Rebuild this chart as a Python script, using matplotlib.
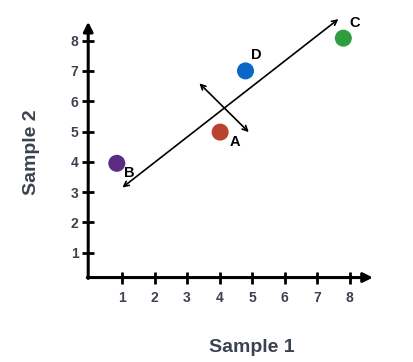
import matplotlib
matplotlib.use('Agg')
import matplotlib.pyplot as plt

# data
names = ['A', 'B', 'C', 'D']
sample1 = [4.02, 0.84, 7.81, 4.80]
sample2 = [4.98, 3.95, 8.08, 7.00]
colors = ['#b8432f', '#5c2b86', '#2f9c3f', '#0a66c8']
label_x = [4.48, 1.22, 8.17, 5.12]
label_y = [4.66, 3.63, 8.57, 7.52]

# first and second axis arrows (ends)
pc1_start = (1.01, 3.15)
pc1_end = (7.66, 8.71)
pc2_start = (3.38, 6.59)
pc2_end = (4.90, 4.98)

xticks = [1, 2, 3, 4, 5, 6, 7, 8]
yticks = [1, 2, 3, 4, 5, 6, 7, 8]

plt.rcParams['font.family'] = ['Liberation Sans', 'DejaVu Sans']
txt = '#3c4250'

fig = plt.figure(figsize=(4.14, 3.62), dpi=100)
ax = fig.add_axes([83 / 414, 79 / 362, 299 / 414, 272.7 / 362])
ax.set_xlim(-0.2, 9.0)
ax.set_ylim(0, 9.0)

x0, y0 = -0.04, 0.18
for s in ['top', 'right']:
    ax.spines[s].set_visible(False)
ax.spines['left'].set_position(('data', x0))
ax.spines['bottom'].set_position(('data', y0))
ax.spines['left'].set_visible(False)
ax.spines['bottom'].set_visible(False)

arrow_kw = dict(arrowstyle='-|>', lw=2.2, color='black', mutation_scale=14,
                shrinkA=0, shrinkB=0)
ax.annotate('', xy=(8.72, y0), xytext=(x0 - 0.03, y0), arrowprops=arrow_kw)
ax.annotate('', xy=(x0, 8.62), xytext=(x0, y0 - 0.03), arrowprops=arrow_kw)

ax.set_xticks(xticks)
ax.set_yticks(yticks)
ax.tick_params(axis='x', direction='inout', length=8, width=2, pad=6,
               labelsize=10, labelcolor=txt)
ax.tick_params(axis='y', direction='inout', length=8, width=2, pad=3,
               labelsize=10, labelcolor=txt)
for lab in ax.get_xticklabels() + ax.get_yticklabels():
    lab.set_fontweight('bold')

# principal directions
ax.annotate('', xy=pc1_end, xytext=pc1_start,
            arrowprops=dict(arrowstyle='<->', lw=1.2, color='black',
                            mutation_scale=9, shrinkA=0, shrinkB=0))
ax.annotate('', xy=pc2_end, xytext=pc2_start,
            arrowprops=dict(arrowstyle='<->', lw=1.2, color='black',
                            mutation_scale=9, shrinkA=0, shrinkB=0))

ax.scatter(sample1, sample2, s=150, c=colors, edgecolors='none', zorder=3)
for n, lx, ly in zip(names, label_x, label_y):
    ax.text(lx, ly, n, fontsize=10.5, fontweight='bold', ha='center',
            va='center', color='black', zorder=4)

fig.text(252 / 414, 1 - 348 / 362, 'Sample 1', fontsize=14, fontweight='bold',
         color=txt, ha='center', va='center')
fig.text(32 / 414, 1 - 152 / 362, 'Sample 2', fontsize=14, fontweight='bold',
         color=txt, ha='center', va='center', rotation=90)

fig.savefig('out.png', dpi=100)
